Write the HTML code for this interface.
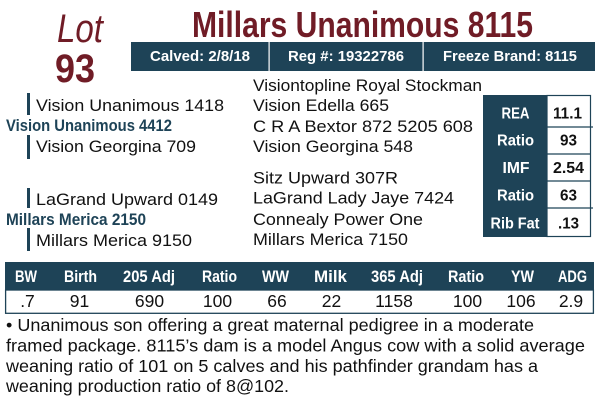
<!DOCTYPE html>
<html><head><meta charset="utf-8"><style>
html,body{margin:0;padding:0;background:#fff;}
svg{display:block;}
text{font-family:"Liberation Sans",Arial,sans-serif;}
</style></head><body>
<svg width="600" height="407" viewBox="0 0 600 407" xmlns="http://www.w3.org/2000/svg">
<rect x="0" y="0" width="600" height="407" fill="#fff"/>
<!-- Lot -->
<text x="57" y="42" font-family="Liberation Serif, serif" font-style="italic" font-size="40" fill="#701c26" textLength="46" lengthAdjust="spacingAndGlyphs">Lot</text>
<text x="55" y="82" font-size="40" font-weight="bold" fill="#701c26" textLength="40" lengthAdjust="spacingAndGlyphs">93</text>
<!-- Title -->
<text x="192" y="37" font-size="36" font-weight="bold" fill="#701c26" textLength="341" lengthAdjust="spacingAndGlyphs">Millars Unanimous 8115</text>
<!-- header bar -->
<rect x="131" y="42" width="464" height="29" fill="#1e4357"/>
<rect x="268.5" y="42" width="1.2" height="29" fill="#fff"/>
<rect x="422.5" y="42" width="1.2" height="29" fill="#fff"/>
<g font-size="15" font-weight="bold" fill="#fff">
<text x="150" y="61" textLength="100" lengthAdjust="spacingAndGlyphs">Calved: 2/8/18</text>
<text x="288" y="61" textLength="116" lengthAdjust="spacingAndGlyphs">Reg #: 19322786</text>
<text x="443" y="61" textLength="134" lengthAdjust="spacingAndGlyphs">Freeze Brand: 8115</text>
</g>
<!-- pedigree left -->
<g fill="#1e4357">
<rect x="27" y="93" width="3" height="22"/>
<rect x="27" y="135" width="3" height="24"/>
<rect x="27" y="188" width="3" height="20"/>
<rect x="27" y="228" width="3" height="23"/>
</g>
<g font-size="17" fill="#111">
<text x="36" y="111" textLength="188" lengthAdjust="spacingAndGlyphs">Vision Unanimous 1418</text>
<text x="36" y="152" textLength="160" lengthAdjust="spacingAndGlyphs">Vision Georgina 709</text>
<text x="36" y="205" textLength="182" lengthAdjust="spacingAndGlyphs">LaGrand Upward 0149</text>
<text x="36" y="246" textLength="156" lengthAdjust="spacingAndGlyphs">Millars Merica 9150</text>
</g>
<g font-size="16.5" font-weight="bold" fill="#1e4357">
<text x="6" y="131" textLength="166" lengthAdjust="spacingAndGlyphs">Vision Unanimous 4412</text>
<text x="6" y="225" textLength="140" lengthAdjust="spacingAndGlyphs">Millars Merica 2150</text>
</g>
<!-- pedigree right -->
<g font-size="17" fill="#111">
<text x="253" y="91" textLength="229" lengthAdjust="spacingAndGlyphs">Visiontopline Royal Stockman</text>
<text x="253" y="111" textLength="136" lengthAdjust="spacingAndGlyphs">Vision Edella 665</text>
<text x="253" y="132" textLength="220" lengthAdjust="spacingAndGlyphs">C R A Bextor 872 5205 608</text>
<text x="253" y="152" textLength="160" lengthAdjust="spacingAndGlyphs">Vision Georgina 548</text>
<text x="253" y="183.5" textLength="145" lengthAdjust="spacingAndGlyphs">Sitz Upward 307R</text>
<text x="253" y="203.5" textLength="201" lengthAdjust="spacingAndGlyphs">LaGrand Lady Jaye 7424</text>
<text x="253" y="225" textLength="170" lengthAdjust="spacingAndGlyphs">Connealy Power One</text>
<text x="253" y="245" textLength="155" lengthAdjust="spacingAndGlyphs">Millars Merica 7150</text>
</g>
<!-- carcass table -->
<rect x="483" y="95" width="64" height="142" fill="#1e4357"/>
<rect x="547" y="95.5" width="43.5" height="141" fill="#fff" stroke="#1e4357" stroke-width="1.2"/>
<g stroke="#1e4357" stroke-width="1.2">
<line x1="547" y1="127" x2="593" y2="127"/>
<line x1="547" y1="154" x2="590" y2="154"/>
<line x1="547" y1="181" x2="590" y2="181"/>
<line x1="547" y1="208" x2="593" y2="208"/>
</g>
<g font-size="16" font-weight="bold" fill="#fff" text-anchor="middle">
<text x="515.5" y="118.5" textLength="28" lengthAdjust="spacingAndGlyphs">REA</text>
<text x="515.5" y="145.5" textLength="37" lengthAdjust="spacingAndGlyphs">Ratio</text>
<text x="516" y="173" textLength="27" lengthAdjust="spacingAndGlyphs">IMF</text>
<text x="515.5" y="200.5" textLength="37" lengthAdjust="spacingAndGlyphs">Ratio</text>
<text x="515" y="228.5" textLength="49" lengthAdjust="spacingAndGlyphs">Rib Fat</text>
</g>
<g font-size="16" font-weight="bold" fill="#111" text-anchor="middle">
<text x="567.5" y="118.5" textLength="29" lengthAdjust="spacingAndGlyphs">11.1</text>
<text x="568.5" y="145.5" textLength="17" lengthAdjust="spacingAndGlyphs">93</text>
<text x="568.5" y="173" textLength="31" lengthAdjust="spacingAndGlyphs">2.54</text>
<text x="568.5" y="200.5" textLength="17" lengthAdjust="spacingAndGlyphs">63</text>
<text x="568.5" y="228.5" textLength="21" lengthAdjust="spacingAndGlyphs">.13</text>
</g>
<!-- bottom table -->
<rect x="5" y="262" width="589" height="28" fill="#1e4357"/>
<rect x="5.6" y="290" width="587.8" height="23.3" fill="#fff" stroke="#1e4357" stroke-width="1.3"/>
<g font-size="16.5" font-weight="bold" fill="#fff" text-anchor="middle">
<text x="26" y="282" textLength="22" lengthAdjust="spacingAndGlyphs">BW</text>
<text x="80.5" y="282" textLength="33" lengthAdjust="spacingAndGlyphs">Birth</text>
<text x="149" y="282" textLength="52" lengthAdjust="spacingAndGlyphs">205 Adj</text>
<text x="219.5" y="282" textLength="35" lengthAdjust="spacingAndGlyphs">Ratio</text>
<text x="275.5" y="282" textLength="27" lengthAdjust="spacingAndGlyphs">WW</text>
<text x="330.5" y="282" textLength="33" lengthAdjust="spacingAndGlyphs">Milk</text>
<text x="397" y="282" textLength="52" lengthAdjust="spacingAndGlyphs">365 Adj</text>
<text x="466" y="282" textLength="36" lengthAdjust="spacingAndGlyphs">Ratio</text>
<text x="522.5" y="282" textLength="23" lengthAdjust="spacingAndGlyphs">YW</text>
<text x="572.5" y="282" textLength="29" lengthAdjust="spacingAndGlyphs">ADG</text>
</g>
<g font-size="17.5" fill="#111" text-anchor="middle">
<text x="27.5" y="307">.7</text>
<text x="79.5" y="307">91</text>
<text x="149.5" y="307">690</text>
<text x="217.5" y="307">100</text>
<text x="277" y="307">66</text>
<text x="331.5" y="307">22</text>
<text x="394" y="307">1158</text>
<text x="467.5" y="307">100</text>
<text x="521" y="307">106</text>
<text x="571" y="307">2.9</text>
</g>
<!-- paragraph -->
<g font-size="17.5" fill="#111">
<text x="6" y="331" textLength="528" lengthAdjust="spacingAndGlyphs">• Unanimous son offering a great maternal pedigree in a moderate</text>
<text x="6" y="351.5" textLength="579" lengthAdjust="spacingAndGlyphs">framed package. 8115’s dam is a model Angus cow with a solid average</text>
<text x="6" y="372" textLength="532" lengthAdjust="spacingAndGlyphs">weaning ratio of 101 on 5 calves and his pathfinder grandam has a</text>
<text x="6" y="392" textLength="283" lengthAdjust="spacingAndGlyphs">weaning production ratio of 8@102.</text>
</g>
</svg>
</body></html>
